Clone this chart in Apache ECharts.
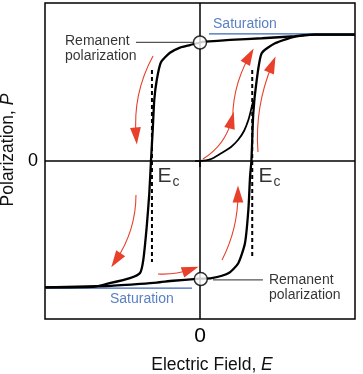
<!DOCTYPE html>
<html><head><meta charset="utf-8">
<script src="https://cdn.jsdelivr.net/npm/echarts@6/dist/echarts.min.js"></script>
<style>html,body{margin:0;padding:0;background:#fff}#c{width:363px;height:374px}</style>
</head><body><div id="c"></div>
<script>
const FONT = '"Liberation Sans", Arial, Helvetica, sans-serif';

// Electric field E (x) and polarization P (y), normalised to [-1, 1]
const upperBranch = [
  [1.0, 0.80], [0.742, 0.80], [0.613, 0.79], [0.40, 0.777], [0.194, 0.766], [0.032, 0.755],
  [0, 0.75], [-0.065, 0.734], [-0.129, 0.718], [-0.194, 0.685], [-0.252, 0.625], [-0.279, 0.513],
  [-0.295, 0.386], [-0.305, 0.196], [-0.316, 0.006], [-0.327, -0.203], [-0.344, -0.418],
  [-0.366, -0.627], [-0.387, -0.709], [-0.452, -0.741], [-0.602, -0.778], [-0.69, -0.797], [-1, -0.80]
];
const lowerBranch = [
  [-1, -0.80], [-0.602, -0.791], [-0.387, -0.778], [-0.279, -0.770], [-0.174, -0.758], [-0.021, -0.746],
  [0, -0.745], [0.075, -0.742], [0.183, -0.711], [0.247, -0.647], [0.29, -0.521], [0.312, -0.31],
  [0.323, -0.099], [0.332, 0.006], [0.344, 0.304], [0.366, 0.513], [0.398, 0.682], [0.484, 0.745],
  [0.613, 0.787], [0.742, 0.80], [1, 0.80]
];
const virginCurve = [
  [0, 0], [0.065, 0.01], [0.14, 0.051], [0.2, 0.089], [0.245, 0.133], [0.284, 0.19],
  [0.312, 0.259], [0.332, 0.335], [0.345, 0.386]
];
const coerciveLeft = [[-0.31, 0.576], [-0.31, -0.639]];
const coerciveRight = [[0.337, 0.576], [0.337, -0.614]];
const remanentPoints = [[0, 0.75], [0.005, -0.747]];
const saturationTop = [[0.058, 0.804], [1, 0.804]];
const saturationBottom = [[-1, -0.804], [-0.052, -0.804]];
const leaderTop = [[-0.413, 0.751], [-0.039, 0.751]];
const leaderBottom = [[0.084, -0.753], [0.406, -0.753]];
const zeroH = [[-1, 0], [1, 0]];
const zeroV = [[0, -1], [0, 1]];
const arrowPaths = [
  [[-0.303, 0.665], [-0.412, 0.158]],
  [[-0.413, -0.215], [-0.542, -0.628]],
  [[-0.271, -0.715], [-0.061, -0.687]],
  [[0.142, -0.627], [0.245, -0.209]],
  [[0.019, 0.013], [0.204, 0.259]],
  [[0.213, 0.209], [0.319, 0.665]],
  [[0.374, 0.057], [0.466, 0.611]]
];
const arrowBend = [-0.15, 0.15, -0.1, -0.12, -0.2, 0.15, 0.12];
const tickValues = [0];
const labelTexts = ['Remanent\npolarization', 'Remanent\npolarization', 'Saturation', 'Saturation', '{e|E}{s|c}', '{e|E}{s|c}'];
const labelAnchors = [[-0.871, 0.708], [0.445, -0.799], [0.084, 0.867], [-0.581, -0.873], [-0.275, -0.098], [0.378, -0.098]];

const chart = echarts.init(document.getElementById('c'), null, {renderer: 'canvas'});

function plain(name, data, color, width, z, type) {
  return {
    name, type: 'line', data, symbol: 'none', silent: true, z: z || 2,
    lineStyle: {color, width, type: type || 'solid'}
  };
}

const labelColors = ['#000', '#000', '#2f5fb3', '#2f5fb3', '#000', '#000'];
// solid narrow arrowhead (tip at top), padded to a square box so its proportions survive scaling
const ARROW_HEAD = 'path://M0,0L5.4,17L-5.4,17Z M-8.5,8L-8.5,8.01Z M8.5,8L8.5,8.01Z';

const option = {
  animation: false,
  textStyle: {fontFamily: FONT},
  grid: {left: 45, right: 8, top: 3, bottom: 55, containLabel: false, outerBoundsMode: 'none',
    show: true, borderColor: '#000', borderWidth: 1.5, backgroundColor: 'transparent'},
  xAxis: {
    type: 'value', min: -1, max: 1, interval: 1,
    axisLine: {show: false}, splitLine: {show: false},
    axisTick: {show: true, customValues: tickValues, length: 6, lineStyle: {color: '#000', width: 1.5}},
    axisLabel: {customValues: tickValues, fontSize: 21, color: '#000', margin: 7, fontFamily: FONT},
    name: '{a|Electric Field, }{b|E}', nameLocation: 'middle', nameGap: 37,
    nameTextStyle: {padding: [0, 0, 0, 24], rich: {a: {fontSize: 17.5, color: '#111', fontFamily: FONT}, b: {fontSize: 17.5, color: '#111', fontStyle: 'italic', fontFamily: FONT}}}
  },
  yAxis: {
    type: 'value', min: -1, max: 1, interval: 1,
    axisLine: {show: false}, splitLine: {show: false},
    axisTick: {show: true, customValues: tickValues, length: 5, lineStyle: {color: '#000', width: 1.5}},
    axisLabel: {customValues: tickValues, fontSize: 18, color: '#000', margin: 7, fontFamily: FONT},
    name: '{a|Polarization, }{b|P}', nameLocation: 'middle', nameGap: 28,
    nameTextStyle: {padding: [0, 0, 0, 22], rich: {a: {fontSize: 17.5, color: '#111', fontFamily: FONT}, b: {fontSize: 17.5, color: '#111', fontStyle: 'italic', fontFamily: FONT}}}
  },
  series: [
    plain('zeroH', zeroH, '#000', 1.5, 1),
    plain('zeroV', zeroV, '#000', 1.5, 1),
    plain('satTop', saturationTop, '#3a66b5', 1.2, 2),
    plain('satBottom', saturationBottom, '#3a66b5', 1.2, 2),
    plain('leaderTop', leaderTop, '#555', 1.2, 2),
    plain('leaderBottom', leaderBottom, '#555', 1.2, 2),
    plain('ecLeft', coerciveLeft, '#000', 2, 3, [4, 3]),
    plain('ecRight', coerciveRight, '#000', 2, 3, [4, 3]),
    {...plain('upper', upperBranch, '#000', 2.3, 4), smooth: 0.2},
    {...plain('lower', lowerBranch, '#000', 2.3, 4), smooth: 0.2},
    {...plain('virgin', virginCurve, '#000', 1.8, 4), smooth: 0.3},
    {
      name: 'arrows', type: 'lines', coordinateSystem: 'cartesian2d', silent: true, z: 5,
      symbol: ['none', ARROW_HEAD], symbolSize: 17,
      data: arrowPaths.map((c, i) => ({coords: c, lineStyle: {curveness: arrowBend[i]}})),
      lineStyle: {color: '#e8402a', width: 1.1, opacity: 1}
    },
    {
      name: 'remanent', type: 'scatter', data: remanentPoints, symbol: 'circle', symbolSize: 13, z: 6, silent: true,
      itemStyle: {color: '#fff', borderColor: '#000', borderWidth: 1.5}
    },
    {
      name: 'labels', type: 'scatter', symbolSize: 0, z: 7, silent: true,
      data: labelAnchors.map((p, i) => ({
        value: p,
        label: {
          show: true, position: 'right', distance: 0, formatter: labelTexts[i], color: labelColors[i],
          fontSize: 14, lineHeight: 15, fontFamily: FONT, align: 'left', verticalAlign: 'middle',
          rich: {
            e: {fontSize: 21, color: '#000', fontFamily: FONT},
            s: {fontSize: 14, color: '#000', fontFamily: FONT, padding: [12, 0, 0, 1]}
          }
        }
      }))
    }
  ]
};
chart.setOption(option);
</script></body></html>
